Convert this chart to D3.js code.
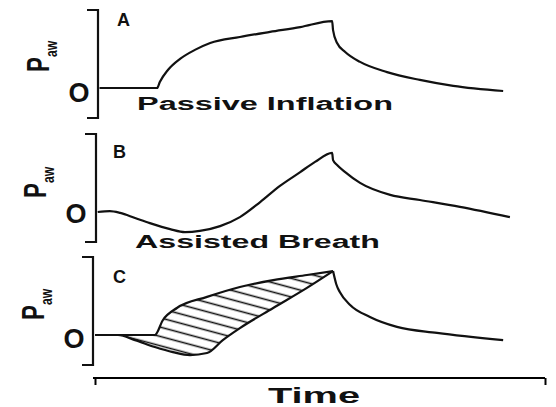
<!DOCTYPE html>
<html>
<head>
<meta charset="utf-8">
<script src="https://cdn.jsdelivr.net/npm/d3@7/dist/d3.min.js"></script>
<style>
  body { margin: 0; background: #fff; }
  text { font-family: "Liberation Sans", Arial, sans-serif; font-weight: bold; fill: #111; }
  .trace { fill: none; stroke: #111; stroke-width: 2.2; stroke-linejoin: round; }
  .frame { fill: none; stroke: #111; stroke-width: 2.2; }
</style>
</head>
<body>
<div class="container"></div>
<script>
const WIDTH = 556;
const HEIGHT = 407;

// time (0-100) and airway pressure (arbitrary units, 0 = baseline)
var passiveT = [1, 13.8, 14.4, 16.2, 18.9, 22.2, 25.6, 32.2, 38.9, 45.6, 52.7, 52.9, 53.8, 55.6, 58.9, 64.9, 72.2, 79.6, 90.7];
var passiveP = [0, 0, 2, 6, 9.7, 12.7, 15, 17, 18.7, 20.3, 22.3, 19.3, 15, 12, 8.7, 5.3, 2.7, 0.7, -1];

var assistedT = [0.6, 3.3, 5.6, 8.9, 12.2, 16.7, 20, 23.3, 27.8, 32.2, 36.7, 41.1, 45.6, 48.9, 52.7, 52.9, 53.8, 55.6, 58.9, 65.6, 72.2, 81.1, 92.2];
var assistedP = [0, 0.3, -0.3, -2, -3.7, -5.7, -6.7, -6.3, -4.7, -1.7, 3.3, 8.7, 13.3, 16.7, 19.7, 17.3, 15.7, 13.3, 9.7, 5.7, 4, 1.7, -1.7];

// panel C: both inspirations overlaid, then the shared expiration
var cUpperT = [0, 13.3, 15.1, 18.2, 24.9, 32.2, 39.6, 47.1, 52.9];
var cUpperP = [0, 0, 5, 9, 12.7, 16, 18.3, 20, 21.3];
var cLowerT = [0, 5.1, 8.9, 13.3, 17.3, 21.1, 24.9, 28.4, 32.2, 39.6, 47.1, 52.9];
var cLowerP = [0, 0, -1.7, -4, -5.7, -6.7, -6, -1.7, 2.3, 9, 15.7, 21.3];
var cDecayT = [52.9, 53.6, 54.4, 56.7, 61.1, 67.1, 76, 90.7];
var cDecayP = [21.3, 17, 14.3, 10, 6, 2.7, 0.7, -1.7];

var panelLetters = ["A", "B", "C"];
var panelCaptions = ["Passive Inflation", "Assisted Breath", ""];
var yLabel = "P";
var ySub = "aw";
var zeroLabel = "O";
var xLabel = "Time";

var zip = function(ts, ps) {
    return ts.map((t, i) => [t, ps[i]]);
};

var svg = d3.select('.container').append('svg')
    .attr('width', WIDTH)
    .attr('height', HEIGHT);

var xScale = d3.scaleLinear().domain([0, 100]).range([95, 545]);

var panels = [
    { top: 10, bottom: 118, axisX: 98, pX: 49, pY: 72, oX: 79, oY: 102, letter: [117, 26], caption: [137, 110, 256] },
    { top: 134, bottom: 242, axisX: 96, pX: 46, pY: 198, oX: 76, oY: 223, letter: [113, 158], caption: [135, 248, 245] },
    { top: 257, bottom: 365, axisX: 93, pX: 44, pY: 320, oX: 74, oY: 348, letter: [113, 283], caption: null }
];
panels.forEach(p => {
    p.y = d3.scaleLinear().domain([-10, 26]).range([p.bottom, p.top]);
});

var defs = svg.append('defs');
defs.append('pattern')
    .attr('id', 'hatch')
    .attr('patternUnits', 'userSpaceOnUse')
    .attr('width', 12)
    .attr('height', 9)
    .attr('patternTransform', 'rotate(15)')
    .append('line')
    .attr('x1', 0).attr('x2', 12)
    .attr('y1', 4.5).attr('y2', 4.5)
    .attr('stroke', '#111')
    .attr('stroke-width', 1.6);

var drawFrame = function(p, i) {
    var g = svg.append('g');
    // bracket-style vertical axis
    g.append('path')
        .classed('frame', true)
        .attr('d', `M${p.axisX - 11},${p.top}H${p.axisX}V${p.bottom}H${p.axisX - 11}`);

    g.append('text')
        .attr('x', p.letter[0])
        .attr('y', p.letter[1])
        .attr('font-size', 18)
        .text(panelLetters[i]);

    g.append('text')
        .attr('x', p.oX)
        .attr('y', p.oY)
        .attr('text-anchor', 'middle')
        .attr('font-size', 27)
        .text(zeroLabel);

    var lab = g.append('text')
        .attr('transform', `translate(${p.pX},${p.pY}) rotate(-90) scale(0.72,1)`)
        .attr('font-size', 31);
    lab.append('tspan').text(yLabel);
    lab.append('tspan')
        .attr('font-size', 17)
        .attr('dy', 8)
        .text(ySub);

    if (p.caption) {
        g.append('text')
            .attr('x', p.caption[0])
            .attr('y', p.caption[1])
            .attr('font-size', 18)
            .attr('textLength', p.caption[2])
            .attr('lengthAdjust', 'spacingAndGlyphs')
            .text(panelCaptions[i]);
    }
};

var lineFor = function(p) {
    return d3.line()
        .x(d => xScale(d[0]))
        .y(d => p.y(d[1]))
        .curve(d3.curveMonotoneX);
};

panels.forEach(drawFrame);

// A
svg.append('path').classed('trace', true)
    .attr('d', lineFor(panels[0])(zip(passiveT, passiveP)));

// B
svg.append('path').classed('trace', true)
    .attr('d', lineFor(panels[1])(zip(assistedT, assistedP)));

// C: hatched work area between the two inspiratory traces
var pc = panels[2];
var upperPts = zip(cUpperT, cUpperP);
var lowerPts = zip(cLowerT, cLowerP);

defs.append('clipPath')
    .attr('id', 'aboveLower')
    .append('path')
    .attr('d', d3.area()
        .x(d => xScale(d[0]))
        .y0(pc.top - 20)
        .y1(d => pc.y(d[1]))
        .curve(d3.curveMonotoneX)(lowerPts));

svg.append('path')
    .attr('clip-path', 'url(#aboveLower)')
    .attr('fill', 'url(#hatch)')
    .attr('d', d3.area()
        .x(d => xScale(d[0]))
        .y0(pc.bottom + 20)
        .y1(d => pc.y(d[1]))
        .curve(d3.curveMonotoneX)(upperPts));

svg.append('path').classed('trace', true)
    .attr('d', lineFor(pc)(upperPts));
svg.append('path').classed('trace', true)
    .attr('d', lineFor(pc)(lowerPts));
svg.append('path').classed('trace', true)
    .attr('d', lineFor(pc)(zip(cDecayT, cDecayP)));

// time axis
var xAxis = d3.axisBottom(xScale).tickValues([0, 100]).tickSize(7).tickFormat('');
var axisG = svg.append('g')
    .attr('transform', 'translate(0,378)')
    .call(xAxis);
axisG.select('.domain').attr('d', `M${xScale(0) - 2},0H${xScale(100)}`).attr('stroke-width', 2);
axisG.selectAll('.tick line').attr('stroke-width', 2);

svg.append('text')
    .attr('x', 268)
    .attr('y', 403)
    .attr('font-size', 22)
    .attr('textLength', 92)
    .attr('lengthAdjust', 'spacingAndGlyphs')
    .text(xLabel);
</script>
</body>
</html>
